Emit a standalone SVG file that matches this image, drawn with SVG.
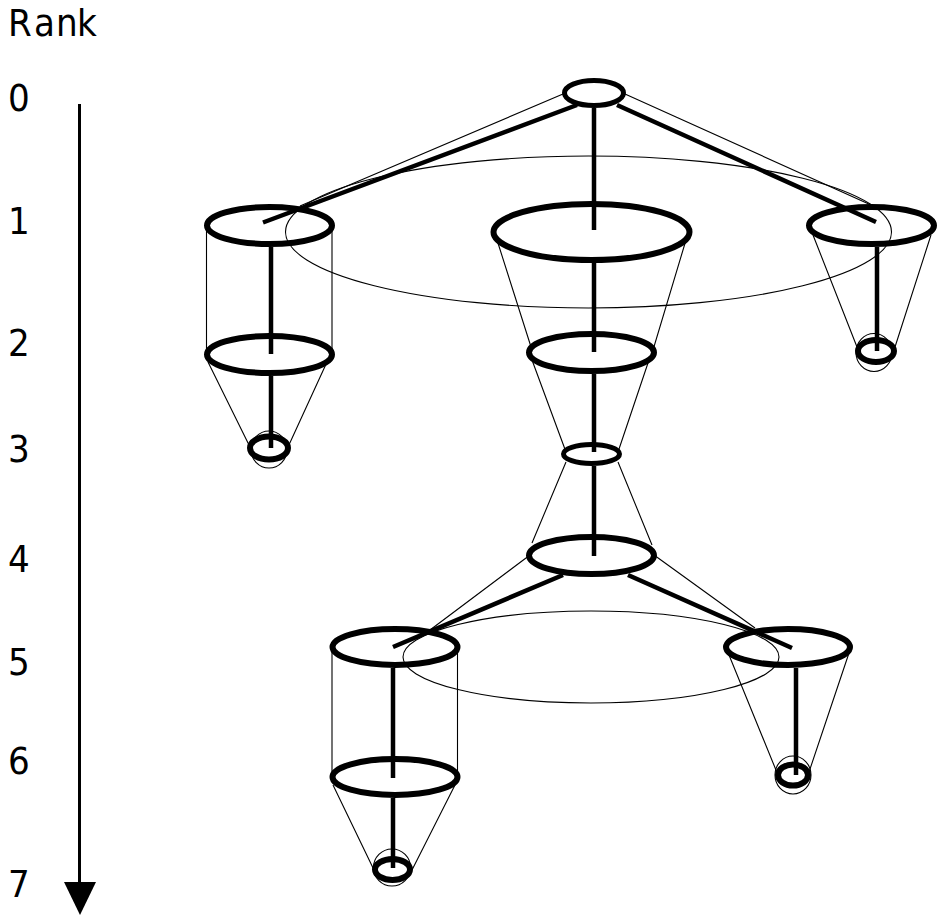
<svg xmlns="http://www.w3.org/2000/svg" width="946" height="921" viewBox="0 0 946 921">
<style>
text{font-family:"DejaVu Sans","Liberation Sans",sans-serif;font-stretch:condensed;font-size:38px;fill:#000}
.n{fill:none;stroke:#000;stroke-width:6}
.s{fill:none;stroke:#000;stroke-width:5}
.t{fill:none;stroke:#000;stroke-width:1.100}
.k{fill:none;stroke:#000;stroke-width:4.500}
</style>
<rect width="946" height="921" fill="#fff"/>
<g id="ranks">
<text x="8 34 56 77" y="36">Rank</text>
<text x="8" y="111">0</text>
<text x="8" y="234">1</text>
<text x="8" y="356">2</text>
<text x="8" y="462">3</text>
<text x="8" y="572">4</text>
<text x="8" y="675">5</text>
<text x="8" y="774">6</text>
<text x="8" y="897">7</text>
<path d="M79.500 104V885" stroke="#000" stroke-width="3" fill="none"/>
<polygon points="64,882 96,882 80,915" fill="#000"/>
</g>
<g id="connectors">
<ellipse class="t" cx="588.500" cy="232" rx="303" ry="76"/>
<ellipse class="t" cx="591" cy="657" rx="188" ry="46"/>
<ellipse class="t" cx="269" cy="449.500" rx="18" ry="18.500"/>
<ellipse class="t" cx="874" cy="352.500" rx="18" ry="19"/>
<ellipse class="t" cx="392" cy="867.500" rx="18.500" ry="18.500"/>
<ellipse class="t" cx="793" cy="775" rx="18" ry="19"/>
<path class="t" d="M563 94L300 206M625 94L871 205M206.500 228V352M332 228V352M497 240L532 350M686 240L653 350M532 360L566 452M649 360L618 452M566 462L532 543M618 462L652 545M813 235L857 347M931 235L895 347M208 362L250 447M327 362L288 447M530 555L430 630M654 555L755 628M332 650V775M457.500 650V775M729 655L778 775M850 650L808 775M333 785L374 870M455 785L412 870"/>
<path class="k" d="M577 105L263 222.500M617 105L876 222M594 108V230M594 263V352M594 374V452M594 466V556M271 247V354M271 376V448M877 247V351M563 575L393 647M628 575L792 648M393 668V778M393 798V868M796 668V775"/>
</g>
<g id="n0"><ellipse class="s" cx="594" cy="93" rx="29.500" ry="12.500"/></g>
<g id="n1a"><ellipse class="n" cx="269.500" cy="225.500" rx="62.500" ry="18.500"/></g>
<g id="n1b"><ellipse class="n" cx="591.500" cy="232" rx="98" ry="28"/></g>
<g id="n1c"><ellipse class="n" cx="871.500" cy="225.500" rx="62.500" ry="18.500"/></g>
<g id="n2a"><ellipse class="n" cx="269.500" cy="354.500" rx="62.500" ry="18.500"/></g>
<g id="n2b"><ellipse class="n" cx="591.500" cy="352.500" rx="62.500" ry="18.500"/></g>
<g id="n2c"><ellipse class="n" cx="876" cy="351" rx="18" ry="11"/></g>
<g id="n3a"><ellipse class="n" cx="269" cy="448" rx="19" ry="11.500"/></g>
<g id="n3b"><ellipse class="s" cx="591.500" cy="454" rx="28" ry="9.500"/></g>
<g id="n4"><ellipse class="n" cx="591.500" cy="555.500" rx="62.500" ry="18.500"/></g>
<g id="n5a"><ellipse class="n" cx="395" cy="647" rx="62.500" ry="18"/></g>
<g id="n5b"><ellipse class="n" cx="788" cy="647" rx="62" ry="18"/></g>
<g id="n6a"><ellipse class="n" cx="395" cy="777" rx="62.500" ry="18"/></g>
<g id="n6b"><ellipse class="n" cx="793" cy="775" rx="15" ry="10.500"/></g>
<g id="n7"><ellipse class="n" cx="392.500" cy="869.500" rx="17.500" ry="10.500"/></g>
</svg>
